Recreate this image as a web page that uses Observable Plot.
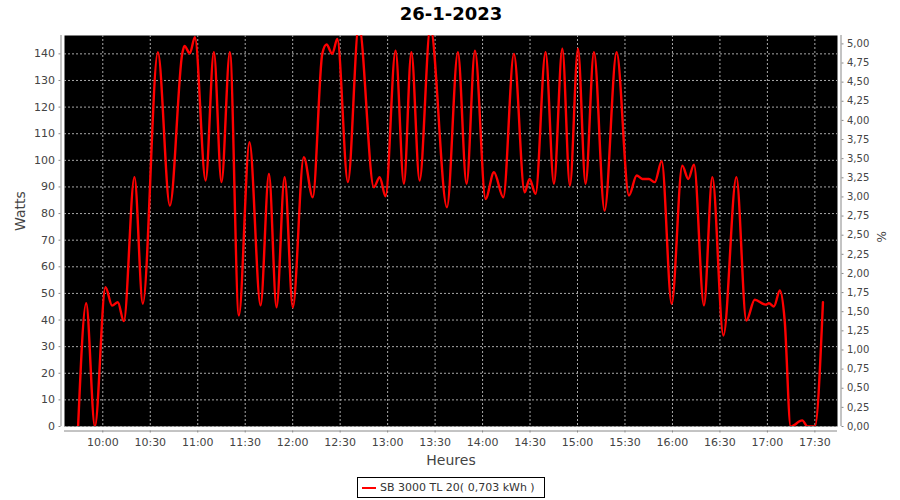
<!DOCTYPE html>
<html>
<head>
<meta charset="utf-8">
<script src="https://cdn.jsdelivr.net/npm/d3@7"></script>
<script src="https://cdn.jsdelivr.net/npm/@observablehq/plot@0.6"></script>
<style>
  html, body { margin: 0; padding: 0; background: white; }
  #wrap { position: relative; width: 900px; height: 500px; font-family: "DejaVu Sans", sans-serif; }
  #legend { position: absolute; left: 357px; top: 477px; width: 186px; height: 19px; border: 1px solid #000;
            box-sizing: content-box; font-size: 11px; color: #333; display: flex; align-items: center; white-space: nowrap; }
  #legend .sw { display: inline-block; width: 14px; height: 2px; background: #ff0000; margin: 0 4px 0 4px; }
</style>
</head>
<body>
<div id="wrap"><div id="chart"></div>
<div id="legend"><span class="sw"></span><span id="legtxt"></span></div></div>
<script>
const title = "26-1-2023";
const seriesName = "SB 3000 TL 20( 0,703 kWh )";
const day = "2023-01-26";
const times = [
  "09:44:24","09:49:30","09:55:00","10:01:42","10:05:54","10:09:30","10:13:18","10:20:00","10:25:18","10:34:48",
  "10:42:24","10:50:12","10:51:36","10:55:00","10:58:12","11:05:00","11:10:12","11:15:00","11:20:18","11:26:00",
  "11:32:42","11:39:42","11:45:00","11:49:48","11:54:54","12:00:06","12:07:00","12:12:42","12:18:42","12:21:24",
  "12:25:00","12:28:12","12:34:54","12:41:48","12:51:18","12:55:00","12:58:42","13:05:00","13:10:18","13:15:00",
  "13:20:12","13:27:00","13:37:30","13:44:24","13:49:54","13:55:12","14:01:54","14:07:12","14:13:06","14:19:48",
  "14:26:36","14:29:42","14:33:30","14:39:48","14:45:06","14:50:24","14:55:12","15:00:18","15:05:06","15:10:24",
  "15:17:06","15:24:42","15:32:30","15:37:24","15:41:00","15:45:06","15:48:48","15:53:12","15:59:30","16:06:12",
  "16:10:00","16:13:36","16:19:54","16:25:12","16:32:12","16:40:24","16:46:42","16:52:00","16:58:54","17:01:00",
  "17:04:06","17:07:54","17:10:54","17:14:42","17:22:00","17:25:18","17:30:00","17:35:06"
];
const watts = [
  0, 46.3, 0, 52.3, 45.4, 46.7, 39.6, 93.7, 46.1, 140.6,
  83, 140, 143, 140.2, 146.3, 92.4, 140.6, 91.8, 140.6, 41.7,
  106.8, 45.5, 94.9, 44.8, 93.7, 44.8, 101.2, 86.1, 140, 143.5,
  140, 145.6, 91.8, 151, 89.9, 93.7, 86.5, 141.2, 91.2, 140.6,
  92.4, 150, 82.4, 140.6, 91.2, 141.2, 85.5, 95.5, 86.1, 140,
  88, 93, 87.4, 140.6, 91.2, 141.9, 90.5, 141.9, 91.2, 140.6,
  81.1, 140.6, 86.8, 94.3, 93, 93, 91.8, 99.7, 46.1, 98,
  93, 98.4, 45.5, 93.7, 34.2, 93.7, 39.8, 47.6, 45.8, 46.3,
  45.1, 51.1, 40, 0, 2.3, 0, 0, 46.7
];
const hourTicks = ["10:00","10:30","11:00","11:30","12:00","12:30","13:00","13:30","14:00","14:30","15:00","15:30","16:00","16:30","17:00","17:30"];
const wattTicks = [0,10,20,30,40,50,60,70,80,90,100,110,120,130,140];
const pctTicks = [0,0.25,0.5,0.75,1,1.25,1.5,1.75,2,2.25,2.5,2.75,3,3.25,3.5,3.75,4,4.25,4.5,4.75,5];
const xStart = "09:35:48", xEnd = "17:44:18";
const yMax = 146.9;
const wattsPerPct = 28.75;

const parse = s => new Date(`${day}T${s.length === 5 ? s + ":00" : s}`);
const data = times.map((t, i) => ({t: parse(t), w: watts[i]}));
const xTicks = hourTicks.map(parse);
const fmt = d3.timeFormat("%H:%M");
const x0 = parse(xStart), x1 = parse(xEnd);
const axisCol = "#888";
const gridCol = "#a8a8a8";

const chart = Plot.plot({
  width: 900, height: 500,
  marginLeft: 64, marginRight: 63, marginTop: 35, marginBottom: 74,
  style: {fontFamily: "DejaVu Sans, sans-serif", fontSize: "11px", color: "#444", background: "transparent", overflow: "visible"},
  x: {type: "time", domain: [x0, x1], label: null},
  y: {domain: [0, yMax], label: null},
  marks: [
    Plot.frame({fill: "black", stroke: null}),
    Plot.gridX(xTicks, {stroke: gridCol, strokeOpacity: 1, strokeDasharray: "2,2", strokeWidth: 1}),
    Plot.gridY(wattTicks, {stroke: gridCol, strokeOpacity: 1, strokeDasharray: "2,2", strokeWidth: 1}),
    Plot.line(data, {x: "t", y: "w", stroke: "#ff0000", strokeWidth: 2.4, curve: "monotone-x", clip: true}),
    Plot.ruleY([0], {dy: 4.5, stroke: axisCol, strokeWidth: 1}),
    Plot.ruleX([x0], {dx: -3.5, stroke: axisCol, strokeWidth: 1}),
    Plot.ruleX([x1], {dx: 3.5, stroke: axisCol, strokeWidth: 1}),
    Plot.axisX(xTicks, {anchor: "bottom", tickFormat: fmt, tickSize: 2, tickPadding: 5, dy: 4.5, stroke: axisCol, fill: "#444", label: null}),
    Plot.axisY(wattTicks, {anchor: "left", tickSize: 2, tickPadding: 4, dx: -3.5, stroke: axisCol, fill: "#444", label: null}),
    Plot.axisY(pctTicks.map(p => p * wattsPerPct), {anchor: "right", tickSize: 2, tickPadding: 4, dx: 3.5, stroke: axisCol, fill: "#444", fontSize: 10,
      tickFormat: v => (v / wattsPerPct).toFixed(2).replace(".", ","), label: null}),
    Plot.text([title], {text: d => d, frameAnchor: "top", lineAnchor: "middle", dy: -21, fontSize: 18, fontWeight: "bold", fill: "#000"}),
    Plot.text(["Watts"], {text: d => d, frameAnchor: "left", dx: -44, rotate: -90, fontSize: 14, fill: "#444"}),
    Plot.text(["%"], {text: d => d, frameAnchor: "right", dx: 45, rotate: -90, fontSize: 12, fill: "#444"}),
    Plot.text(["Heures"], {text: d => d, frameAnchor: "bottom", lineAnchor: "middle", dy: 34, fontSize: 14, fill: "#444"})
  ]
});
document.getElementById("chart").appendChild(chart);
document.getElementById("legtxt").textContent = seriesName;
</script>
</body>
</html>
